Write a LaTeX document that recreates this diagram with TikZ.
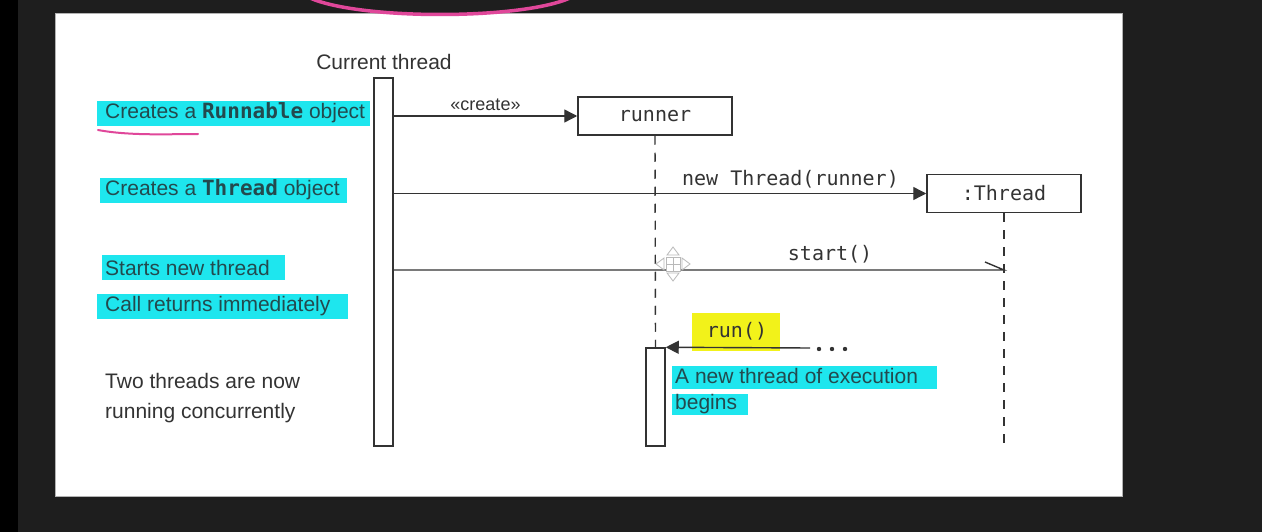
\documentclass[tikz,border=0pt]{standalone}
\usepackage{fontspec}
\setmainfont{Liberation Sans}
\setmonofont{DejaVu Sans Mono}
\usetikzlibrary{arrows.meta}
\definecolor{bgdark}{HTML}{1E1E1E}
\definecolor{ink}{HTML}{333333}
\definecolor{hltext}{HTML}{234A4E}
\definecolor{hlcyan}{HTML}{1EE6EE}
\definecolor{hlyellow}{HTML}{F2F21A}
\definecolor{pinkmark}{HTML}{E0479A}
\begin{document}
\begin{tikzpicture}[x=1pt,y=-1pt,
  lbl/.style={font=\fontsize{21}{30}\selectfont, text=ink, inner sep=0pt, anchor=west, align=left},
  hl/.style={lbl, text=hltext},
  code/.style={font=\ttfamily\fontsize{20}{24}\selectfont, text=ink},
  obj/.style={draw=ink, line width=1.5pt, fill=white, minimum width=154pt, minimum height=38pt, inner sep=0pt, code},
  bar/.style={draw=ink, line width=1.5pt, fill=white, minimum width=19pt, inner sep=0pt},
  msg/.style={draw=ink, line width=1.4pt, -{Triangle[length=13pt,width=13pt]}},
  plainmsg/.style={draw=ink, line width=1.4pt},
  life/.style={draw=ink, line width=1.4pt, dash pattern=on 9pt off 8pt},
  mlabel/.style={code, inner sep=0pt}]
% background
\fill[black] (0,0) rectangle (1262,532);
\fill[bgdark] (18,0) rectangle (1262,532);
\useasboundingbox (0,0) rectangle (1262,532);
\filldraw[fill=white, draw=gray!60, line width=1pt] (55,14) rectangle (1122,496);
% pink annotation arc
\draw[pinkmark, line width=3.5pt] (310,-2) .. controls (360,20) and (520,20) .. (570,-2);
% highlights
\fill[hlcyan] (97,101) rectangle (370,126);
\fill[hlcyan] (100,178) rectangle (347,203);
\fill[hlcyan] (102,255) rectangle (285,280);
\fill[hlcyan] (97,294) rectangle (348,319);
\fill[hlcyan] (672,366) rectangle (937,389);
\fill[hlcyan] (672,394) rectangle (748,415);
\fill[hlyellow] (692,313) rectangle (780,351);
% left labels
\node[hl] (t1) at (105,113) {Creates a \textbf{\ttfamily Runnable} object};
\node[hl] (t2) at (105,190) {Creates a \textbf{\ttfamily Thread} object};
\node[hl] (t3) at (105,268) {Starts new thread};
\node[hl] (t4) at (105,306) {Call returns immediately};
\node[lbl] (t5) at (105,398) {Two threads are now\\running concurrently};
\draw[pinkmark, line width=2pt, line cap=round] (98,130) .. controls (130,136) and (170,134) .. (198,134);
% participants
\node[lbl, anchor=center] (curlbl) at (384,62) {Current thread};
\node[obj] (runner) at (655,116) {runner};
\node[obj] (thread) at (1004,193.5) {:Thread};
\coordinate (tend) at (1004,446);
\coordinate (startend) at (1004,270);
\coordinate (runfrom) at (810,348);
\coordinate (rtop) at (655.5,348);
% lifelines
\draw[life] (runner.south) -- (rtop);
\draw[life] (thread.south) -- (tend);
% activation bars
\node[bar, minimum height=368pt] (cur) at (383.5,262) {};
\node[bar, minimum height=98pt] (rbar) at (655.5,397) {};
% messages
\draw[msg] (cur.east |- runner.west) -- node[above=5pt, inner sep=0pt, font=\fontsize{18}{20}\selectfont, text=ink] (createlbl) {«create»} (runner.west);
\draw[msg] (cur.east |- thread.west) -- node[pos=0.745, above=5pt, mlabel] (newlbl) {new Thread(runner)} (thread.west);
\draw[plainmsg] (cur.east |- startend) -- node[pos=0.715, above=6pt, mlabel] (startlbl) {start()} (startend) -- ++(-19,-8);
\draw[msg] (runfrom) -- (rbar.north east);
\node[mlabel] (runlbl) at (737,331) {run()};
\foreach \dx in {819,832,845} \fill[ink] (\dx,349) circle (2.2pt);
% right label
\node[hl] (t6) at (675,376) {A new thread of execution};
\node[hl] (t7) at (675,404) {begins};
% move cursor icon
\begin{scope}[shift={(673,264)}, line width=0.8pt, draw=gray!55]
  \draw[fill=white] (-6,-9) -- (0,-17) -- (6,-9) -- cycle;
  \draw[fill=white] (-6,9) -- (0,17) -- (6,9) -- cycle;
  \draw[fill=white] (-9,-6) -- (-17,0) -- (-9,6) -- cycle;
  \draw[fill=white] (9,-6) -- (17,0) -- (9,6) -- cycle;
  \draw[fill=white] (-7,-7) rectangle (7,7);
  \draw (0,-7) -- (0,7) (-7,0) -- (7,0);
\end{scope}
\end{tikzpicture}
\end{document}
